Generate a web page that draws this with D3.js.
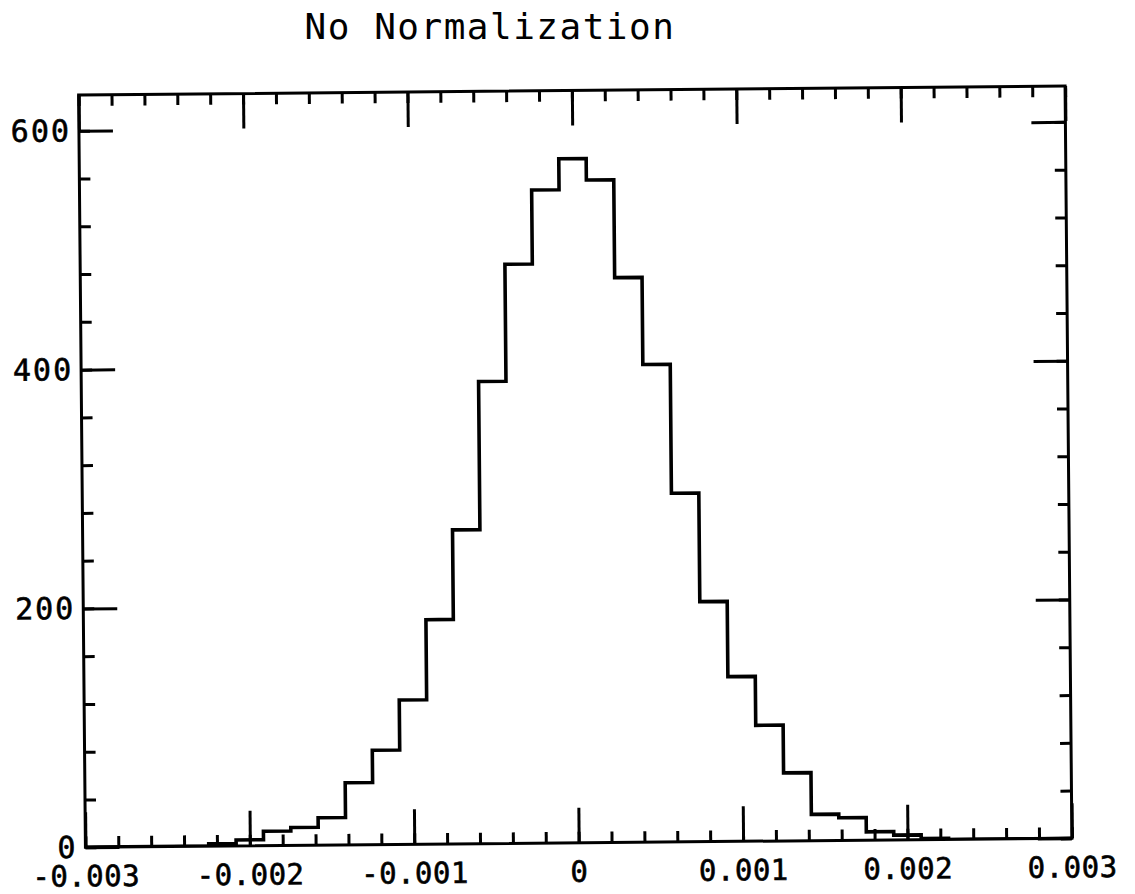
<!DOCTYPE html>
<html>
<head>
<meta charset="utf-8">
<script src="https://cdn.jsdelivr.net/npm/d3@7"></script>
<style>
  body { margin: 0; background: #fff; }
  text { font-family: "DejaVu Sans Mono", monospace; fill: #000; }
  .lbl text { stroke: #000; stroke-width: 0.6px; }
</style>
</head>
<body>
<svg width="1135" height="894"></svg>
<script>
// Histogram definition (bins centred on multiples of 1/6000)
var xLow = -0.00308333,      // left edge of the first bin
    binWidth = 0.000166667;

// Bin contents, left to right (37 bins)
var counts = [0, 0, 0, 0, 0, 2, 5, 12, 15, 23, 52, 79, 121, 188, 263, 387, 485, 547,
              573, 555, 473, 400, 292, 201, 138, 97, 57, 22, 19, 7, 4, 1, 0, 0, 0, 0, 0];

// Axis ticks
var xMajor = [-0.003, -0.002, -0.001, 0, 0.001, 0.002, 0.003];
var xMinor = d3.range(-30, 31, 2).map(function(d) { return d / 10000; });
var yMajor = [0, 200, 400, 600];
var yMinor = d3.range(0, 630, 40);

var title = "No Normalization";

var svg = d3.select("svg"),
    margin = {top: 90.5, right: 66.5, bottom: 51.2, left: 82},
    width = +svg.attr("width") - margin.left - margin.right,
    height = +svg.attr("height") - margin.top - margin.bottom;

// the scanned page is slightly tilted
var g = svg.append("g")
    .attr("transform", "rotate(-0.52, 576, 466) translate(" + margin.left + "," + margin.top + ")");

var x = d3.scaleLinear().domain([-0.003, 0.003]).range([0, width]);
var y = d3.scaleLinear().domain([0, 630]).range([height, 0]);

var fmtX = function(d) { return d === 0 ? "0" : d.toFixed(3); };

// ==================== Ticks ==================== //
function styleTicks(sel) {
    sel.select(".domain").remove();
    sel.selectAll(".tick line").attr("stroke", "#000").attr("stroke-width", 3);
}

// bottom
g.append("g").attr("transform", "translate(0," + height + ")")
    .call(d3.axisBottom(x).tickValues(xMinor).tickSize(-11).tickFormat(""))
    .call(styleTicks);
var xb = g.append("g").attr("class", "lbl").attr("transform", "translate(0," + height + ")")
    .call(d3.axisBottom(x).tickValues(xMajor).tickSize(-35).tickFormat(fmtX))
    .call(styleTicks);
xb.selectAll("text")
    .attr("y", 39).attr("dy", 0)
    .style("font-size", "29px")
    .style("letter-spacing", "0.5px");

// top
g.append("g")
    .call(d3.axisTop(x).tickValues(xMinor).tickSize(-11).tickFormat(""))
    .call(styleTicks);
g.append("g")
    .call(d3.axisTop(x).tickValues(xMajor).tickSize(-35).tickFormat(""))
    .call(styleTicks);

// left
g.append("g")
    .call(d3.axisLeft(y).tickValues(yMinor).tickSize(-11).tickFormat(""))
    .call(styleTicks);
var yl = g.append("g").attr("class", "lbl")
    .call(d3.axisLeft(y).tickValues(yMajor).tickSize(-34).tickFormat(d3.format("d")))
    .call(styleTicks);
yl.selectAll("text")
    .attr("x", -8).attr("dy", "0.33em")
    .style("font-size", "30px")
    .style("letter-spacing", "2px");

// right
g.append("g").attr("transform", "translate(" + width + ",0)")
    .call(d3.axisRight(y).tickValues(yMinor).tickSize(-11).tickFormat(""))
    .call(styleTicks);
g.append("g").attr("transform", "translate(" + width + ",0)")
    .call(d3.axisRight(y).tickValues(yMajor).tickSize(-34).tickFormat(""))
    .call(styleTicks);

// ==================== Histogram ==================== //
g.append("clipPath").attr("id", "plotclip")
  .append("rect").attr("width", width).attr("height", height);

var steps = counts.map(function(c, i) { return {x: xLow + i * binWidth, v: c}; });
steps.push({x: xLow + counts.length * binWidth, v: 0});
steps.unshift({x: xLow, v: 0});

var line = d3.line()
    .x(function(d) { return x(d.x); })
    .y(function(d) { return y(d.v); })
    .curve(d3.curveStepAfter);

g.append("path")
    .datum(steps)
    .attr("clip-path", "url(#plotclip)")
    .attr("fill", "none")
    .attr("stroke", "#000")
    .attr("stroke-width", 3.6)
    .attr("stroke-linejoin", "miter")
    .attr("d", line);

// Frame
g.append("rect")
    .attr("width", width)
    .attr("height", height)
    .attr("fill", "none")
    .attr("stroke", "#000")
    .attr("stroke-width", 3);

// Title
svg.append("text")
    .attr("x", 490)
    .attr("y", 39)
    .attr("text-anchor", "middle")
    .style("font-size", "36px")
    .style("letter-spacing", "1.5px")
    .text(title);
</script>
</body>
</html>
